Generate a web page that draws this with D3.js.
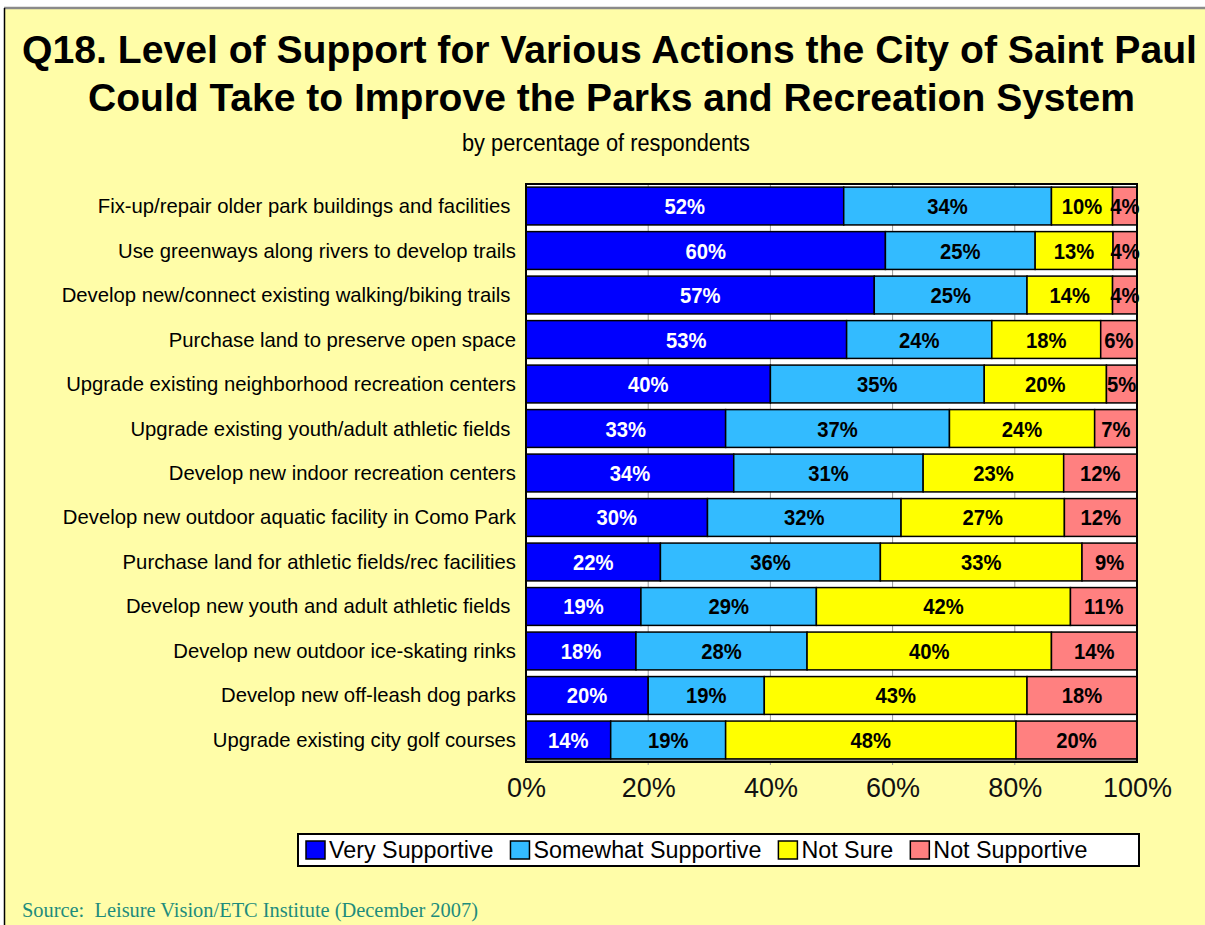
<!DOCTYPE html>
<html>
<head>
<meta charset="utf-8">
<script src="https://cdn.jsdelivr.net/npm/d3@7"></script>
<style>
html,body{margin:0;padding:0;background:#fff;}
svg{display:block;}
</style>
</head>
<body>
<svg id="chart" width="1205" height="925"></svg>
<script>
// ---------------- DATA ----------------
const categories = [
  "Fix-up/repair older park buildings and facilities ",
  "Use greenways along rivers to develop trails",
  "Develop new/connect existing walking/biking trails ",
  "Purchase land to preserve open space",
  "Upgrade existing neighborhood recreation centers",
  "Upgrade existing youth/adult athletic fields ",
  "Develop new indoor recreation centers",
  "Develop new outdoor aquatic facility in Como Park",
  "Purchase land for athletic fields/rec facilities",
  "Develop new youth and adult athletic fields ",
  "Develop new outdoor ice-skating rinks",
  "Develop new off-leash dog parks",
  "Upgrade existing city golf courses"
];
const verySupportive     = [52, 60, 57, 53, 40, 33, 34, 30, 22, 19, 18, 20, 14];
const somewhatSupportive = [34, 25, 25, 24, 35, 37, 31, 32, 36, 29, 28, 19, 19];
const notSure            = [10, 13, 14, 18, 20, 24, 23, 27, 33, 42, 40, 43, 48];
const notSupportive      = [ 4,  4,  4,  6,  5,  7, 12, 12,  9, 11, 14, 18, 20];
const seriesNames  = ["Very Supportive", "Somewhat Supportive", "Not Sure", "Not Supportive"];
const seriesColors = ["#0000FF", "#33BBFF", "#FFFF00", "#FF8080"];
const labelColors  = ["#FFFFFF", "#000000", "#000000", "#000000"];
const tickValues = [0, 20, 40, 60, 80, 100];
const tickLabels = ["0%", "20%", "40%", "60%", "80%", "100%"];
const titleLines = [
  "Q18. Level of Support for Various Actions the City of Saint Paul",
  "Could Take to Improve the Parks and Recreation System"
];
const subtitle = "by percentage of respondents";
const sourceText = "Source:  Leisure Vision/ETC Institute (December 2007)";

// ---------------- LAYOUT ----------------
const FONT = "'Liberation Sans', Arial, Helvetica, sans-serif";
const svg = d3.select("#chart");

// page frame
svg.append("rect").attr("x", 0).attr("y", 0).attr("width", 1205).attr("height", 925).attr("fill", "#fff");
svg.append("rect").attr("x", 4).attr("y", 8).attr("width", 1201).attr("height", 917).attr("fill", "#FFFDA8");
svg.append("line").attr("x1", 4).attr("x2", 1205).attr("y1", 8).attr("y2", 8).attr("stroke", "#8a8a8a").attr("stroke-width", 2.5);
svg.append("line").attr("x1", 4.5).attr("x2", 4.5).attr("y1", 8).attr("y2", 925).attr("stroke", "#000").attr("stroke-width", 1.5);

// title
const titleSpec = [{y: 63, x: 609.5, w: 1175}, {y: 111, x: 611.5, w: 1047}];
titleLines.forEach((t, i) => {
  svg.append("text")
    .attr("x", titleSpec[i].x).attr("y", titleSpec[i].y)
    .attr("text-anchor", "middle")
    .attr("font-family", FONT).attr("font-weight", "bold").attr("font-size", 39)
    .attr("textLength", titleSpec[i].w).attr("lengthAdjust", "spacingAndGlyphs")
    .attr("fill", "#000")
    .text(t);
});
svg.append("text")
  .attr("x", 606).attr("y", 151)
  .attr("text-anchor", "middle")
  .attr("font-family", FONT).attr("font-size", 23)
  .attr("textLength", 288).attr("lengthAdjust", "spacingAndGlyphs")
  .attr("fill", "#000")
  .text(subtitle);

// scales
const plot = {left: 526, right: 1137, top: 184, bottom: 762};
const x = d3.scaleLinear().domain([0, 100]).range([plot.left, plot.right]);
const y = d3.scaleBand().domain(categories).range([plot.top, plot.bottom]).paddingInner(0.15).paddingOuter(0.07);

// plot background
svg.append("rect").attr("x", plot.left).attr("y", plot.top)
  .attr("width", plot.right - plot.left).attr("height", plot.bottom - plot.top)
  .attr("fill", "#fff");

// gridlines
svg.append("g").selectAll("line").data(tickValues.slice(1, -1)).join("line")
  .attr("x1", d => x(d)).attr("x2", d => x(d))
  .attr("y1", plot.top).attr("y2", plot.bottom + 3)
  .attr("stroke", "#9a9a9a").attr("stroke-width", 1);

// floor
svg.append("rect").attr("x", plot.left).attr("y", plot.bottom - 3)
  .attr("width", plot.right - plot.left).attr("height", 4)
  .attr("fill", "#8c8c8c");

// stacked data (100% stacked, normalised per row)
const seriesArrays = [verySupportive, somewhatSupportive, notSure, notSupportive];
const rows = categories.map((c, i) => {
  const vals = seriesArrays.map(a => a[i]);
  const total = d3.sum(vals);
  let acc = 0;
  return vals.map((v, k) => {
    const seg = {cat: c, k, v, x0: acc / total * 100, x1: (acc + v) / total * 100};
    acc += v;
    return seg;
  });
});
const segs = rows.flat();

const barG = svg.append("g");
barG.selectAll("rect").data(segs).join("rect")
  .attr("x", d => x(d.x0)).attr("y", d => y(d.cat))
  .attr("width", d => x(d.x1) - x(d.x0)).attr("height", y.bandwidth())
  .attr("fill", d => seriesColors[d.k])
  .attr("stroke", "#000").attr("stroke-width", 1.5);

// plot frame
svg.append("rect").attr("x", plot.left).attr("y", plot.top)
  .attr("width", plot.right - plot.left).attr("height", plot.bottom - plot.top)
  .attr("fill", "none").attr("stroke", "#000").attr("stroke-width", 2);

// value labels
barG.selectAll("text").data(segs).join("text")
  .attr("transform", d => `translate(${(x(d.x0) + x(d.x1)) / 2},${y(d.cat) + y.bandwidth() / 2 + 8}) scale(0.92,1)`)
  .attr("text-anchor", "middle")
  .attr("font-family", FONT).attr("font-weight", "bold").attr("font-size", 22)
  .attr("fill", d => labelColors[d.k])
  .text(d => d.v + "%");

// category labels
svg.append("g").selectAll("text").data(categories).join("text")
  .attr("x", 516).attr("y", d => y(d) + y.bandwidth() / 2 + 7)
  .attr("text-anchor", "end")
  .style("white-space", "pre")
  .attr("font-family", FONT).attr("font-size", 20.3)
  .attr("fill", "#000")
  .text(d => d);

// x axis
const axis = d3.axisBottom(x).tickValues(tickValues).tickFormat((d, i) => tickLabels[i]).tickSize(0).tickPadding(0);
const axG = svg.append("g").attr("transform", `translate(0,${plot.bottom})`).call(axis);
axG.select(".domain").remove();
axG.selectAll("text")
  .attr("y", 35).attr("dy", 0)
  .attr("font-family", FONT).attr("font-size", 27)
  .attr("fill", "#111");

// legend
const leg = svg.append("g");
leg.append("rect").attr("x", 298).attr("y", 834).attr("width", 841).attr("height", 32)
  .attr("fill", "#fff").attr("stroke", "#000").attr("stroke-width", 2);
let lx = 306;
seriesNames.forEach((name, k) => {
  leg.append("rect").attr("x", lx).attr("y", 841).attr("width", 19).attr("height", 18)
    .attr("fill", seriesColors[k]).attr("stroke", "#000").attr("stroke-width", 1.5);
  const t = leg.append("text").attr("x", lx + 23).attr("y", 858)
    .attr("font-family", FONT).attr("font-size", 23.3).attr("fill", "#000")
    .text(name);
  lx += 23 + t.node().getComputedTextLength() + 17;
});

// source
svg.append("text")
  .attr("x", 22).attr("y", 917)
  .style("white-space", "pre")
  .attr("font-family", "'Liberation Serif', 'Times New Roman', serif").attr("font-size", 20.4)
  .attr("fill", "#1E8C7C")
  .text(sourceText);
</script>
</body>
</html>
